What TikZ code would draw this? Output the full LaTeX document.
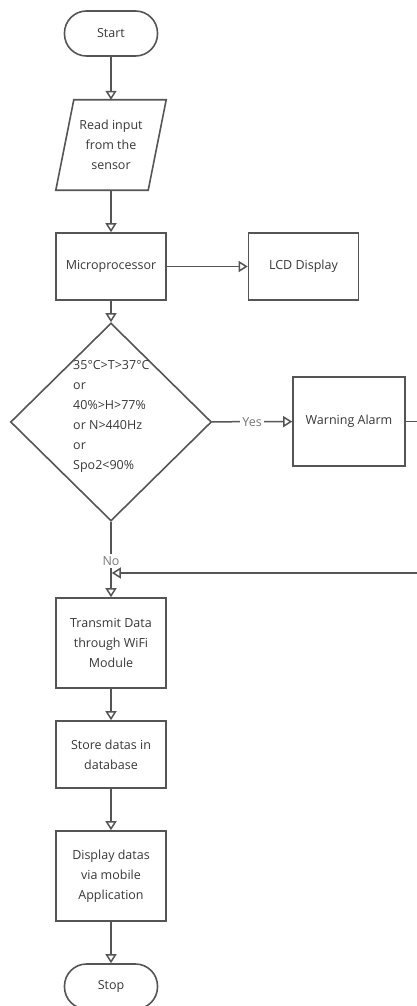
\documentclass[tikz,border=0pt]{standalone}
\usepackage{fontspec}
\setmainfont{Open Sans}
\usetikzlibrary{arrows.meta,shapes.geometric}
\definecolor{ln}{HTML}{555555}
\definecolor{tx}{HTML}{383838}
\definecolor{lb}{HTML}{777777}
\begin{document}
\begin{tikzpicture}[x=1pt,y=-1pt,
  every node/.style={font=\fontsize{12.5}{20}\selectfont, text=tx},
  box/.style={draw=ln, line width=1.6pt, minimum width=110pt, inner sep=0pt, align=center},
  term/.style={draw=ln, line width=1.6pt, rounded corners=22pt, minimum width=93pt, minimum height=45pt, inner sep=0pt},
  flow/.style={draw=ln, line width=1.5pt, -{Triangle[length=9pt, width=11pt, fill=white]}},
  plain/.style={draw=ln, line width=1.6pt},
  lab/.style={text=lb, fill=white, inner sep=2pt}]
\fill[white] (0,0) rectangle (417,1006);
\useasboundingbox (0,0) rectangle (417,1006);

\node[term] (start) at (111,33.5) {Start};
\node[minimum width=92pt, minimum height=90pt, inner sep=0pt, align=center] (read) at (111,145) {Read input\\from the\\sensor};
\draw[plain] ([xshift=9pt]read.north west) -- ([xshift=9pt]read.north east)
  -- ([xshift=-9pt]read.south east) -- ([xshift=-9pt]read.south west) -- cycle;
\node[box, minimum height=67pt] (micro) at (111,266.5) {Microprocessor};
\node[box, minimum height=67pt] (lcd) at (303.5,266.5) {LCD Display};
\node[diamond, draw=ln, line width=1.6pt, minimum width=201pt, minimum height=198pt, inner sep=0pt] (dec) at (111,422) {};
\node[align=left, anchor=west, inner sep=0pt] (cond) at (73,416.5) {35°C>T>37°C\\or\\40\%>H>77\%\\or N>440Hz\\or\\Spo2<90\%};
\node[box, minimum width=112pt, minimum height=89pt] (warn) at (349,421.5) {Warning Alarm};
\node[box, minimum height=90pt] (trans) at (111,643) {Transmit Data\\through WiFi\\Module};
\node[box, minimum height=67pt] (store) at (111,754.5) {Store datas in\\database};
\node[box, minimum height=90pt] (disp) at (111,876) {Display datas\\via mobile\\Application};
\node[term] (stop) at (111,986.5) {Stop};

\coordinate (rc) at (424,421.5);
\coordinate (rb) at (424,573);
\coordinate (join) at (111.8,573);

\draw[flow] (start) -- (read);
\draw[flow] (read) -- (micro);
\draw[flow] (micro) -- (lcd);
\draw[flow] (micro) -- (dec);
\draw[flow] (dec) -- node[lab]{Yes} (warn);
\draw[flow] (dec) -- node[lab, pos=0.52]{No} (trans);
\draw[flow] (warn.east) -- (rc) -- (rb) -- (join);
\draw[flow] (trans) -- (store);
\draw[flow] (store) -- (disp);
\draw[flow] (disp) -- (stop);
\end{tikzpicture}
\end{document}
